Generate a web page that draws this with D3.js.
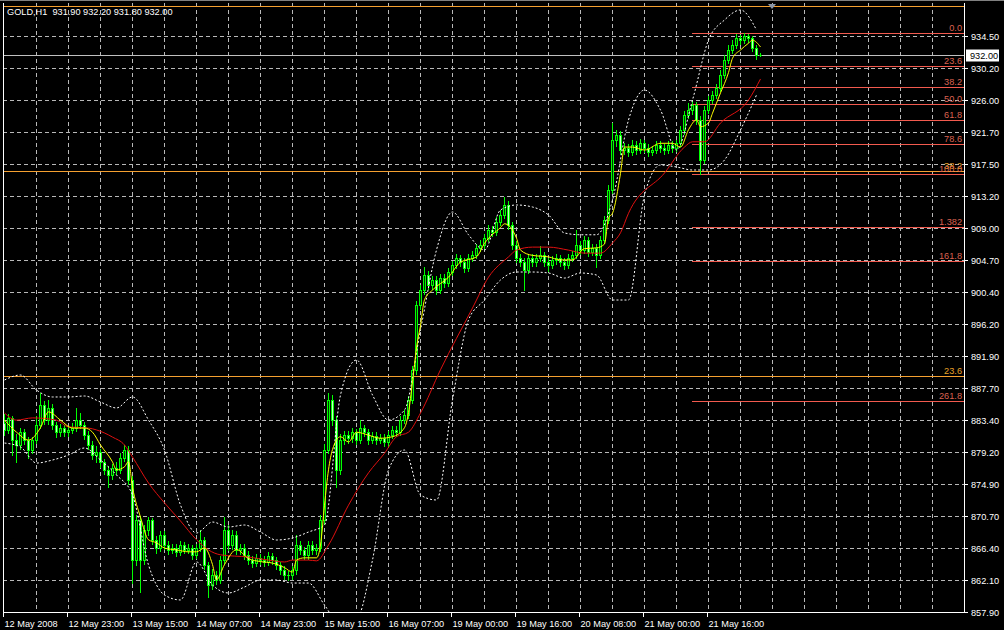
<!DOCTYPE html>
<html><head><meta charset="utf-8">
<script src="https://cdn.jsdelivr.net/npm/d3@7"></script>
<style>html,body{margin:0;padding:0;background:#000;}svg{display:block;}</style>
</head><body>
<svg id="c" width="1004" height="630"></svg>
<script>
const symbolTitle = "GOLD,H1  931.90 932.20 931.80 932.00";
const timeLabels = ["12 May 2008","12 May 23:00","13 May 15:00","14 May 07:00","14 May 23:00","15 May 15:00","16 May 07:00","19 May 00:00","19 May 16:00","20 May 08:00","21 May 00:00","21 May 16:00"];
const timeLabelBars = [0,16,32,48,64,80,96,112,128,144,160,176];
const priceTicks = ["934.50","930.20","926.00","921.70","917.50","913.20","909.00","904.70","900.40","896.20","891.90","887.70","883.40","879.20","874.90","870.70","866.40","862.10","857.90"];

const closes = [882.1,883.7,880.75,880.1,881.8,880.75,879.45,880.75,882.75,885.4,
883.4,885.0,882.75,881.8,882.35,881.8,882.1,882.35,883.4,882.75,
881.4,880.1,878.8,879.2,877.85,876.8,876.1,877.05,876.8,878.4,
879.45,875.45,864.8,870.1,864.8,868.8,870.1,867.5,866.4,868.15,
866.8,866.15,866.4,865.9,866.8,866.15,866.4,865.5,866.4,867.5,
864.15,861.5,862.8,862.15,864.8,868.8,866.8,868.15,866.15,866.4,
865.5,864.8,864.4,865.1,864.8,864.55,865.35,864.8,864.15,863.5,
862.8,862.8,863.5,866.8,866.15,865.5,866.8,866.15,866.4,870.1,
879.45,886.1,883.4,876.8,880.75,881.4,881.0,881.8,880.75,882.35,
881.8,880.75,881.3,880.75,881.0,880.5,881.4,882.1,881.8,883.4,
884.1,886.1,890.05,898.7,900.7,902.7,901.35,902.0,900.7,902.3,
901.6,903.1,904.0,904.95,904.4,903.6,904.95,905.35,906.3,906.7,
907.6,908.7,908.4,909.8,910.7,912.0,909.35,906.7,904.95,904.4,
903.35,904.95,904.4,904.95,905.35,904.4,904.0,904.7,904.95,904.4,
904.0,904.95,905.35,906.7,906.0,907.35,905.75,906.3,905.35,907.35,
910.0,914.0,920.6,921.3,919.3,919.6,919.05,920.0,919.3,920.2,
919.6,919.05,919.3,920.0,919.6,919.3,920.0,919.6,920.2,921.95,
923.95,924.6,925.3,923.3,918.0,924.6,925.95,926.6,927.5,929.3,
931.3,932.6,933.25,934.2,933.9,934.45,934.2,932.85,931.9,932.0];

const opens = [883.0,882.1,883.7,880.75,880.1,881.8,880.75,879.45,880.75,882.75,
885.4,883.4,885.0,882.75,881.8,882.35,881.8,882.1,882.35,883.4,
882.75,881.4,880.1,878.8,879.2,877.85,876.8,876.1,877.05,876.8,
878.4,879.45,875.45,864.8,870.1,864.8,868.8,870.1,867.5,866.4,
868.15,866.8,866.15,866.4,865.9,866.8,866.15,866.4,865.5,866.4,
867.5,864.15,861.5,862.8,862.15,864.8,868.8,866.8,868.15,866.15,
866.4,865.5,864.8,864.4,865.1,864.8,864.55,865.35,864.8,864.15,
863.5,862.8,862.8,863.5,866.8,866.15,865.5,866.8,866.15,866.4,
870.1,879.45,886.1,883.4,876.8,880.75,881.4,881.0,881.8,880.75,
882.35,881.8,880.75,881.3,880.75,881.0,880.5,881.4,882.1,881.8,
883.4,884.1,886.1,890.05,898.7,900.7,902.7,901.35,902.0,900.7,
902.3,901.6,903.1,904.0,904.95,904.4,903.6,904.95,905.35,906.3,
906.7,907.6,908.7,908.4,909.8,910.7,912.0,909.35,906.7,904.95,
904.4,903.35,904.95,904.4,904.95,905.35,904.4,904.0,904.7,904.95,
904.4,904.0,904.95,905.35,906.7,906.0,907.35,905.75,906.3,905.35,
907.35,910.0,914.0,920.6,921.3,919.3,919.6,919.05,920.0,919.3,
920.2,919.6,919.05,919.3,920.0,919.6,919.3,920.0,919.6,920.2,
921.95,923.95,924.6,925.3,923.3,918.0,924.6,925.95,926.6,927.5,
929.3,931.3,932.6,933.25,934.2,933.9,934.45,934.2,932.85,931.9];

const highs = [884.2,884.2,884.0,881.5,882.3,882.2,881.2,881.2,883.9,887.0,
886.0,886.1,885.5,883.2,882.9,882.8,882.6,883.0,885.0,884.3,
883.2,881.9,880.6,879.9,879.6,878.3,877.3,877.6,877.9,879.0,
880.1,879.9,876.0,870.8,870.6,869.5,870.5,870.4,868.0,868.7,
868.6,867.3,866.9,866.9,867.3,867.2,866.9,866.8,866.9,868.8,
867.9,864.6,863.6,863.4,865.4,870.5,869.4,868.8,868.6,867.0,
866.9,866.0,865.3,865.6,865.6,865.3,865.9,865.8,865.2,864.6,
864.0,863.3,864.0,868.2,867.3,866.6,867.3,867.3,866.9,870.8,
880.2,887.0,886.8,883.9,881.5,882.0,881.9,882.3,882.2,883.4,
882.8,882.2,881.8,881.8,881.5,881.5,881.9,882.6,882.6,883.9,
884.8,886.6,890.6,899.3,901.4,903.75,903.2,902.6,902.5,902.8,
902.8,903.6,904.5,905.5,905.4,904.9,905.5,905.9,906.8,907.3,
908.2,909.3,909.2,910.4,911.3,913.1,912.5,909.8,907.2,905.5,
904.9,905.5,905.5,905.5,906.5,905.8,904.9,905.2,905.5,905.4,
904.9,905.5,905.9,908.7,907.2,907.9,907.8,906.8,906.8,907.9,
910.6,914.6,922.9,922.0,921.8,920.2,920.1,920.6,920.5,920.8,
920.7,920.1,919.8,920.5,920.5,920.1,920.5,920.5,920.7,922.5,
924.5,925.5,925.8,925.7,923.8,925.1,926.5,927.2,928.1,929.9,
931.9,933.2,933.9,934.7,934.6,934.8,934.7,934.5,933.3,932.2];

const lows = [881.4,881.7,878.8,877.85,879.6,880.2,878.4,879.0,880.3,882.3,
882.9,882.9,882.2,881.2,881.3,881.3,881.3,881.7,882.0,882.3,
880.9,879.5,878.2,877.9,877.2,876.2,874.5,875.6,876.2,876.4,
878.0,874.9,861.75,864.2,860.55,864.3,868.2,867.0,865.8,866.0,
866.3,865.6,865.7,865.3,865.5,865.7,865.7,865.0,865.1,866.0,
863.6,859.9,861.0,861.6,861.8,864.3,866.2,866.3,865.6,865.6,
865.0,864.3,863.9,864.0,864.3,864.0,864.1,864.3,863.6,863.0,
862.3,862.15,862.3,863.0,865.6,865.0,865.0,865.6,865.6,866.0,
869.6,879.0,882.8,874.5,876.3,880.2,880.4,880.5,880.2,880.3,
881.3,880.2,880.3,880.2,880.3,880.0,880.0,881.0,881.3,881.4,
883.0,883.7,885.7,889.6,898.2,900.2,900.8,900.8,900.2,900.3,
901.1,901.2,902.7,903.6,903.9,903.1,903.2,904.5,904.9,905.9,
906.3,907.2,907.9,908.0,909.4,910.3,908.8,906.2,904.4,903.9,
900.7,902.9,903.9,903.9,904.5,903.9,903.2,903.6,904.2,903.9,
903.5,903.6,904.5,904.9,905.5,905.6,905.2,905.3,903.75,905.0,
906.9,909.6,913.6,919.8,918.8,918.8,918.5,918.6,918.8,918.9,
919.1,918.5,918.6,918.9,919.1,918.8,918.9,919.1,919.2,919.8,
921.5,923.5,924.1,922.8,916.15,917.6,924.2,925.5,926.2,927.1,
928.9,930.9,932.2,932.8,933.4,933.5,933.7,932.4,931.4,931.8];

const fastMaBars = [0,3,6,9,11,14,17,20,22,24,27,28,30,31,32,34,36,38,40,43,46,48,50,52,53,55,58,61,64,67,70,72,73,75,78,79,80,81,82,84,86,88,91,94,97,100,101,102,103,104,105,107,111,114,118,120,124,125,128,129,132,136,139,142,145,148,150,151,152,154,155,157,160,164,167,169,171,173,174,176,177,179,181,182,184,186,187,189];
const fastMa = [883.4,881.8,880.75,882.4,884.5,883.4,882.35,882.35,881.8,880.1,877.85,876.8,877.2,877.9,874.5,870.5,867.5,867.1,866.4,866.15,865.9,865.9,866.4,864.2,862.2,864.2,866.2,865.0,864.6,864.4,863.8,863.2,864.8,865.1,865.1,866.8,872.1,876.8,879.5,881.2,880.5,881.8,881.4,881.0,881.2,882.4,884.4,888.5,893.0,896.0,899.4,900.7,902.4,904.4,905.1,906.9,909.0,909.5,907.6,906.0,905.3,905.1,904.7,904.7,906.2,906.3,906.8,910.3,910.9,916.2,919.7,919.7,919.3,920.2,920.2,919.7,922.0,923.3,922.4,922.9,924.2,926.9,929.6,931.5,932.6,933.5,933.9,933.0];

const slowMaBars = [0,3,7,13,16,21,23,27,30,32,36,40,44,48,51,54,61,66,70,72,76,78,81,86,91,95,98,101,104,109,117,121,126,128,132,136,141,145,149,152,154,156,165,170,172,175,179,186,189];
const slowMa = [884.35,883.4,883.7,883.4,882.5,882.35,882.1,881.15,880.1,878.5,875.05,872.4,870.0,867.5,866.15,865.5,865.2,864.8,864.55,864.8,864.8,864.7,866.8,872.1,876.4,879.0,881.2,881.8,884.35,890.1,898.3,902.4,905.1,906.0,906.4,906.4,906.0,905.6,905.6,906.95,908.3,910.9,916.25,919.7,920.4,920.4,922.9,925.95,928.75];

const bandBars = [0,4,8,12,16,20,24,28,32,36,40,44,48,52,56,60,64,68,72,76,80,84,88,92,96,100,104,108,112,116,120,124,128,132,136,140,144,148,152,156,160,164,168,172,176,180,184,188];
const upperBand = [888.74,889.4,887.4,886.48,886.48,886.61,885.81,885.02,886.48,883.42,879.43,872.12,868.4,869.86,869.2,869.46,868.53,867.47,867.74,868.53,869.46,886.74,891.39,886.74,883.42,884.75,895.38,906.02,911.07,908.04,906.02,911.33,912.0,911.73,910.67,908.28,908.04,908.04,912.66,923.29,927.28,924.62,919.31,925.95,933.93,936.59,937.92,935.26];
const lowerBand = [880.36,879.83,877.7,878.1,878.77,879.7,878.1,876.11,873.45,864.15,860.16,859.5,864.55,861.49,860.43,861.22,862.15,862.15,861.75,861.75,858.83,856.17,856.84,864.81,876.77,879.43,873.45,872.79,886.08,896.71,899.37,902.03,903.09,903.09,902.96,902.29,902.96,902.69,899.37,899.37,913.33,917.31,917.05,916.65,916.65,917.98,921.97,926.62];

const fibLevels = [0,23.6,38.2,50,61.8,78.6,100,138.2,161.8,261.8];
const fibLabels = ["0.0","23.6","38.2","50.0","61.8","78.6","100.0","1.382","161.8","261.8"];
const fibHigh = 934.81, fibLow = 916.15, fibStartBar = 172;
const fib2Levels = [23.6,38.2,50];
const fib2Labels = ["23.6","38.2","50.0"];
const fib2Low = 845.2, fib2High = 1031.8;
const lastPrice = 932.00;
const shiftMarkerBar = 192;

// ---------- drawing ----------
const W = 1004, H = 630;
const P = {left: 3, right: 964, top: 3, bottom: 612};
const x = d3.scaleLinear().domain([0, 240]).range([4, 964]);
const y = d3.scaleLinear().domain([857.9, 934.5]).range([612, 35.7]);
const svg = d3.select("#c");
const font = "'Liberation Sans', Arial, sans-serif";
const FS = 9.2;
const px = v => Math.round(v) + 0.5;

svg.append("rect").attr("width", W).attr("height", H).attr("fill", "#000");
svg.append("defs").append("clipPath").attr("id", "clip")
  .append("rect").attr("x", P.left).attr("y", P.top).attr("width", P.right - P.left).attr("height", P.bottom - P.top);

// grid
const grid = svg.append("g").attr("clip-path", "url(#clip)")
  .attr("stroke", "#b8b8b8").attr("stroke-width", 1).attr("stroke-dasharray", "4,3").attr("fill", "none");
priceTicks.forEach(t => {
  grid.append("line").attr("x1", P.left).attr("x2", P.right).attr("y1", px(y(+t))).attr("y2", px(y(+t)));
});
d3.range(8, 240, 8).forEach(b => {
  grid.append("line").attr("x1", px(x(b))).attr("x2", px(x(b))).attr("y1", P.top).attr("y2", P.bottom);
});

const plot = svg.append("g").attr("clip-path", "url(#clip)");

// second Fibonacci (orange, full width)
fib2Levels.forEach((lv, i) => {
  const price = fib2Low + (fib2High - fib2Low) * lv / 100;
  const yy = px(y(price));
  plot.append("line").attr("x1", P.left).attr("x2", P.right).attr("y1", yy).attr("y2", yy)
    .attr("stroke", "#f5a030").attr("stroke-width", 1);
  if (yy - 10 > P.top) {
    plot.append("text").attr("x", P.right - 2).attr("y", yy - 2.5).attr("text-anchor", "end")
      .attr("font-family", font).attr("font-size", FS).attr("fill", "#e8a028").text(fib2Labels[i]);
  }
});

// Fibonacci retracement (red)
fibLevels.forEach((lv, i) => {
  const price = fibHigh - (fibHigh - fibLow) * lv / 100;
  const yy = px(y(price));
  plot.append("line").attr("x1", x(fibStartBar)).attr("x2", P.right).attr("y1", yy).attr("y2", yy)
    .attr("stroke", "#f25a4e").attr("stroke-width", 1);
  plot.append("text").attr("x", P.right - 2).attr("y", yy - 2.5).attr("text-anchor", "end")
    .attr("font-family", font).attr("font-size", FS).attr("fill", "#dc6250").text(fibLabels[i]);
});

// current price line
plot.append("line").attr("x1", P.left).attr("x2", P.right)
  .attr("y1", px(y(lastPrice))).attr("y2", px(y(lastPrice))).attr("stroke", "#c0c0c0");

// candles
const cg = plot.append("g");
closes.forEach((c, i) => {
  const o = opens[i], cx = Math.round(x(i));
  const yh = Math.round(y(highs[i])), yl = Math.round(y(lows[i]));
  const yt = Math.round(y(Math.max(o, c))), yb = Math.round(y(Math.min(o, c)));
  cg.append("rect").attr("x", cx).attr("y", yh).attr("width", 1).attr("height", Math.max(1, yl - yh + 1)).attr("fill", "#00ff00");
  const bh = Math.max(1, yb - yt + 1);
  cg.append("rect").attr("x", cx - 1).attr("y", yt).attr("width", 3).attr("height", bh).attr("fill", "#00ff00");
  if (bh > 2) {
    cg.append("rect").attr("x", cx).attr("y", yt + 1).attr("width", 1).attr("height", bh - 2)
      .attr("fill", c >= o ? "#003300" : "#c8ffc8");
  }
});

// indicator lines
const mk = (bars, vals) => bars.map((b, i) => [x(b) + 0.5, y(vals[i])]);
const line = d3.line().curve(d3.curveMonotoneX);
plot.append("path").attr("d", line(mk(bandBars, upperBand))).attr("fill", "none")
  .attr("stroke", "#ffffff").attr("stroke-width", 1).attr("stroke-dasharray", "2,2");
plot.append("path").attr("d", line(mk(bandBars, lowerBand))).attr("fill", "none")
  .attr("stroke", "#ffffff").attr("stroke-width", 1).attr("stroke-dasharray", "2,2");
plot.append("path").attr("d", line(mk(slowMaBars, slowMa))).attr("fill", "none")
  .attr("stroke", "#e01010").attr("stroke-width", 1);
plot.append("path").attr("d", line(mk(fastMaBars, fastMa))).attr("fill", "none")
  .attr("stroke", "#ffff00").attr("stroke-width", 1);

// frame
const fr = svg.append("g").attr("stroke", "#ffffff").attr("stroke-width", 1);
fr.append("line").attr("x1", 0).attr("x2", W).attr("y1", 0.5).attr("y2", 0.5).attr("stroke", "#808080");
fr.append("line").attr("x1", P.left + 0.5).attr("x2", P.left + 0.5).attr("y1", P.top).attr("y2", P.bottom + 1);
fr.append("line").attr("x1", P.left).attr("x2", P.right + 1).attr("y1", P.bottom + 0.5).attr("y2", P.bottom + 0.5);
fr.append("line").attr("x1", P.right + 0.5).attr("x2", P.right + 0.5).attr("y1", P.top).attr("y2", P.bottom + 1);

// price axis
priceTicks.forEach(t => {
  const yy = px(y(+t));
  fr.append("line").attr("x1", P.right).attr("x2", P.right + 4).attr("y1", yy).attr("y2", yy);
  svg.append("text").attr("x", 971).attr("y", yy).attr("dy", "0.36em")
    .attr("font-family", font).attr("font-size", FS).attr("fill", "#ffffff").text(t);
});
// last price tag
const ly = px(y(lastPrice));
svg.append("rect").attr("x", 966).attr("y", ly - 6).attr("width", 33).attr("height", 12).attr("fill", "#ffffff");
svg.append("text").attr("x", 970).attr("y", ly).attr("dy", "0.36em")
  .attr("font-family", font).attr("font-size", FS).attr("fill", "#000000").text(lastPrice.toFixed(2));

// time axis
timeLabels.forEach((t, i) => {
  const xx = px(x(timeLabelBars[i])) - 1;
  fr.append("line").attr("x1", xx).attr("x2", xx).attr("y1", P.bottom).attr("y2", P.bottom + 5);
  svg.append("text").attr("x", xx + 1).attr("y", 627).attr("font-family", font).attr("font-size", FS)
    .attr("fill", "#ffffff").text(t);
});

// shift marker
const sx = x(shiftMarkerBar);
svg.append("path").attr("d", `M${sx - 4},4 L${sx + 4},4 L${sx},9 Z`).attr("fill", "#8a96a8");

// title
svg.append("text").attr("x", 7).attr("y", 15).attr("font-family", font).attr("font-size", FS)
  .attr("fill", "#ffffff").attr("xml:space", "preserve").style("white-space", "pre").text(symbolTitle);
</script>
</body></html>
